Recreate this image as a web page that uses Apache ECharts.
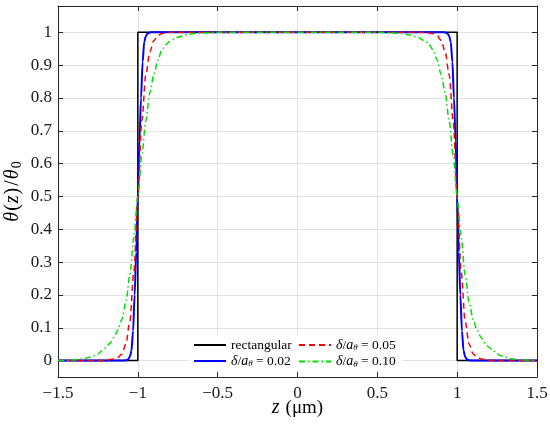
<!DOCTYPE html>
<html><head><meta charset="utf-8">
<script src="https://cdn.jsdelivr.net/npm/echarts@6/dist/echarts.min.js"></script>
<style>html,body{margin:0;padding:0;background:#fff}#c{width:550px;height:429px}</style>
</head><body><div id="c"></div>
<script>
const xTicks = [-1.5, -1, -0.5, 0, 0.5, 1, 1.5];
const yTicks = [0, 0.1, 0.2, 0.3, 0.4, 0.5, 0.6, 0.7, 0.8, 0.9, 1];
const seriesNames = ['rectangular', 'd02', 'd05', 'd10'];
const legendLabels = {
  rectangular: 'rectangular',
  d02: '{i|δ}/{i|a}{s|θ} = 0.02',
  d05: '{i|δ}/{i|a}{s|θ} = 0.05',
  d10: '{i|δ}/{i|a}{s|θ} = 0.10'
};
const rectangular = [[-1.5,0],[-1,0],[-1,1],[1,1],[1,0],[1.5,0]];
const delta02 = [[-1.5,0],[-1.1,0],[-1.075,0.001],[-1.06,0.004],[-1.05,0.012],[-1.04,0.03],[-1.03,0.09],[-1.02,0.2],[-1.01,0.33],[-1,0.5],[-0.99,0.67],[-0.98,0.8],[-0.97,0.91],[-0.96,0.97],[-0.95,0.988],[-0.94,0.996],[-0.92,1],
  [0.92,1],[0.94,0.996],[0.95,0.988],[0.96,0.97],[0.97,0.91],[0.98,0.8],[0.99,0.67],[1,0.5],[1.01,0.33],[1.02,0.2],[1.03,0.09],[1.04,0.03],[1.05,0.012],[1.06,0.004],[1.075,0.001],[1.1,0],[1.5,0]];
const delta05 = [[-1.5,0],[-1.25,0],[-1.2,0.001],[-1.175,0.003],[-1.15,0.005],[-1.125,0.01],[-1.1,0.02],[-1.075,0.05],[-1.05,0.12],[-1.025,0.27],[-1,0.5],[-0.975,0.73],[-0.95,0.87],[-0.925,0.94],[-0.9,0.975],[-0.875,0.99],[-0.85,0.996],[-0.8,1],
  [0.8,1],[0.85,0.996],[0.875,0.99],[0.9,0.975],[0.925,0.94],[0.95,0.87],[0.975,0.73],[1,0.5],[1.025,0.27],[1.05,0.12],[1.075,0.05],[1.1,0.02],[1.125,0.01],[1.15,0.005],[1.175,0.003],[1.2,0.001],[1.25,0],[1.5,0]];
const delta10 = [[-1.5,0],[-1.45,0.001],[-1.4,0.002],[-1.35,0.005],[-1.3,0.01],[-1.275,0.015],[-1.25,0.02],[-1.225,0.03],[-1.2,0.04],[-1.175,0.053],[-1.15,0.07],[-1.125,0.093],[-1.1,0.125],[-1.075,0.178],[-1.05,0.26],[-1.025,0.375],[-1,0.5],[-0.975,0.625],[-0.95,0.73],[-0.925,0.815],[-0.9,0.87],[-0.875,0.915],[-0.85,0.945],[-0.825,0.962],[-0.8,0.973],[-0.75,0.985],[-0.7,0.992],[-0.65,0.996],[-0.6,0.998],[-0.5,1],
  [0.5,1],[0.6,0.998],[0.65,0.996],[0.7,0.992],[0.75,0.985],[0.8,0.973],[0.825,0.962],[0.85,0.945],[0.875,0.915],[0.9,0.87],[0.925,0.815],[0.95,0.73],[0.975,0.625],[1,0.5],[1.025,0.375],[1.05,0.26],[1.075,0.178],[1.1,0.125],[1.125,0.093],[1.15,0.07],[1.175,0.053],[1.2,0.04],[1.225,0.03],[1.25,0.02],[1.275,0.015],[1.3,0.01],[1.35,0.005],[1.4,0.002],[1.45,0.001],[1.5,0]];

const FONT = '"Liberation Serif", "DejaVu Serif", serif';
const AX = '#262626';
const GRIDC = '#e2e2e2';
const fmtX = v => String(v).replace('-', '\u2212');
const fmtY = v => String(+(+v).toFixed(1));
const richLeg = {
  i: {fontStyle: 'italic', fontFamily: FONT, fontSize: 14, color: '#000'},
  s: {fontStyle: 'italic', fontFamily: FONT, fontSize: 9, color: '#000', padding: [6, 0, 0, 0]}
};
const legendCommon = {
  orient: 'vertical', itemGap: 2, itemWidth: 32, itemHeight: 14,
  backgroundColor: '#fff', borderWidth: 0,
  itemStyle: {opacity: 0},
  textStyle: {fontFamily: FONT, fontSize: 13.5, color: '#000', rich: richLeg},
  formatter: n => legendLabels[n]
};

const chart = echarts.init(document.getElementById('c'), null, {renderer: 'canvas'});
chart.setOption({
  animation: false,
  backgroundColor: '#fff',
  grid: {left: 58, right: 13, top: 6, bottom: 52, containLabel: false, outerBoundsMode: 'none'},
  xAxis: [{
    type: 'value', min: -1.5, max: 1.5, interval: 0.5,
    name: '{i|z}{p|(μm)}', nameLocation: 'middle', nameGap: 21, nameMoveOverlap: false,
    nameTextStyle: {fontFamily: FONT, fontSize: 19, color: '#000',
      rich: {i: {fontStyle: 'italic', fontFamily: FONT, fontSize: 20, color: '#000', padding: [0, 6, 0, 0]},
             p: {fontFamily: FONT, fontSize: 19, color: '#000'}}},
    axisLine: {show: true, onZero: false, lineStyle: {color: AX, width: 1}},
    axisTick: {show: true, inside: true, length: 5, lineStyle: {color: AX}},
    axisLabel: {fontFamily: FONT, fontSize: 17, color: '#1a1a1a', margin: 8, formatter: fmtX},
    splitLine: {show: true, lineStyle: {color: GRIDC, width: 1}}
  }, {
    type: 'value', min: -1.5, max: 1.5, interval: 0.5, position: 'top',
    axisLine: {show: true, onZero: false, lineStyle: {color: AX, width: 1}},
    axisTick: {show: true, inside: true, length: 5, lineStyle: {color: AX}},
    axisLabel: {show: false}, splitLine: {show: false}
  }],
  yAxis: [{
    type: 'value', min: -0.05, max: 1.08,
    name: '{i|θ}{p|(}{i|z}{p|)}{p|/}{i|θ}{s|0}', nameLocation: 'middle', nameRotate: 90, nameGap: 34, nameMoveOverlap: false,
    nameTextStyle: {fontFamily: FONT, fontSize: 20, color: '#000',
      rich: {i: {fontStyle: 'italic', fontFamily: FONT, fontSize: 20, color: '#000'},
             p: {fontFamily: FONT, fontSize: 20, color: '#000', padding: [0, 1, 0, 1]},
             s: {fontFamily: FONT, fontSize: 14, color: '#000', padding: [9, 0, 0, 1]}}},
    axisLine: {show: true, onZero: false, lineStyle: {color: AX, width: 1}},
    axisTick: {show: true, inside: true, length: 5, lineStyle: {color: AX}, customValues: yTicks},
    axisLabel: {fontFamily: FONT, fontSize: 17, color: '#1a1a1a', margin: 6, formatter: fmtY, customValues: yTicks},
    splitLine: {show: true, lineStyle: {color: GRIDC, width: 1}}
  }, {
    type: 'value', min: -0.05, max: 1.08, position: 'right',
    axisLine: {show: true, onZero: false, lineStyle: {color: AX, width: 1}},
    axisTick: {show: true, inside: true, length: 5, lineStyle: {color: AX}, customValues: yTicks},
    axisLabel: {show: false, customValues: yTicks}, splitLine: {show: false}
  }],
  legend: [
    Object.assign({}, legendCommon, {data: ['rectangular', 'd02'], left: 189, top: 336, padding: [2, 6, 2, 4]}),
    Object.assign({}, legendCommon, {data: ['d05', 'd10'], left: 294, top: 336, padding: [2, 6, 2, 4]})
  ],
  series: [
    {name: 'rectangular', type: 'line', data: rectangular, symbol: 'none', xAxisIndex: 0, yAxisIndex: 0,
      lineStyle: {color: '#000', width: 1.5}, itemStyle: {color: '#000'}},
    {name: 'd02', type: 'line', data: delta02, symbol: 'none', smooth: 0.3, smoothMonotone: 'x',
      lineStyle: {color: '#0000ff', width: 2}, itemStyle: {color: '#0000ff'}},
    {name: 'd05', type: 'line', data: delta05, symbol: 'none', smooth: 0.3, smoothMonotone: 'x',
      lineStyle: {color: '#ff0000', width: 1.5, type: [6, 4]}, itemStyle: {color: '#ff0000'}},
    {name: 'd10', type: 'line', data: delta10, symbol: 'none', smooth: 0.3, smoothMonotone: 'x',
      lineStyle: {color: '#00e000', width: 1.5, type: [6, 3, 1.5, 3]}, itemStyle: {color: '#00e000'}}
  ]
});
</script></body></html>
